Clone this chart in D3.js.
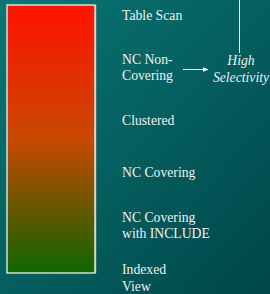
<html>
<head>
<script src="https://d3js.org/d3.v7.min.js"></script>
</head>
<body style="margin:0">
<svg id="chart" width="270" height="294" style="display:block"></svg>
<script>
// index types, ordered from lowest to highest selectivity benefit
var categories = [
  ["Table Scan"],
  ["NC Non-", "Covering"],
  ["Clustered"],
  ["NC Covering"],
  ["NC Covering", "with INCLUDE"],
  ["Indexed", "View"]
];
var barColors = ["#ff1200", "#c84800", "#0e6600"];
var noteLines = ["High", "Selectivity"];

var FONT = "Liberation Serif";
var svg = d3.select("#chart");
var W = 270, H = 294;
var defs = svg.append("defs");

var bg = defs.append("linearGradient").attr("id", "bg")
  .attr("x1", 0).attr("y1", 0).attr("x2", 1).attr("y2", 1);
bg.append("stop").attr("offset", 0).attr("stop-color", "#0a7674");
bg.append("stop").attr("offset", 1).attr("stop-color", "#00464a");

var bar = defs.append("linearGradient").attr("id", "bar")
  .attr("x1", 0).attr("y1", 0).attr("x2", 0).attr("y2", 1);
bar.selectAll("stop").data(barColors).enter().append("stop")
  .attr("offset", (d, i) => i / (barColors.length - 1))
  .attr("stop-color", d => d);

defs.append("marker").attr("id", "head")
  .attr("viewBox", "0 0 10 10").attr("refX", 9).attr("refY", 5)
  .attr("markerWidth", 6).attr("markerHeight", 6).attr("orient", "auto")
  .append("path").attr("d", "M0,1L10,5L0,9Z").attr("fill", "#fff");

svg.append("rect").attr("width", W).attr("height", H).attr("fill", "url(#bg)");

// bar
var x0 = 7, x1 = 95, y0 = 5, y1 = 273;
svg.append("rect")
  .attr("x", x0).attr("y", y0).attr("width", x1 - x0).attr("height", y1 - y0)
  .attr("fill", "url(#bar)")
  .attr("stroke", "#fff").attr("stroke-width", 1.2);
svg.append("line")
  .attr("x1", x1 + 0.5).attr("x2", x1 + 0.5).attr("y1", y0).attr("y2", y1)
  .attr("stroke", "#f2d8b8").attr("stroke-opacity", 0.8).attr("stroke-width", 1.5);

// labels
var y = d3.scalePoint().domain(d3.range(categories.length)).range([15, 278]);
var lineH = 16.5;
var lab = svg.selectAll("text.lab").data(categories).enter().append("text")
  .attr("class", "lab")
  .attr("font-family", FONT)
  .attr("font-size", 13.7)
  .attr("fill", "#f0f0f0");
lab.selectAll("tspan").data((d, i) => d.map(t => ({t: t, i: i, n: d.length})))
  .enter().append("tspan")
  .attr("x", 122)
  .attr("y", (d, j) => y(d.i) + 4.5 - (d.n - 1) * lineH / 2 + j * lineH)
  .attr("font-family", FONT)
  .text(d => d.t);

// arrow and note
svg.append("line")
  .attr("x1", 183).attr("x2", 208).attr("y1", 69.5).attr("y2", 69.5)
  .attr("stroke", "#fff").attr("stroke-width", 1)
  .attr("marker-end", "url(#head)");
svg.append("line")
  .attr("x1", 239.5).attr("x2", 239.5).attr("y1", 0).attr("y2", 53)
  .attr("stroke", "#fff").attr("stroke-width", 1);
svg.selectAll("text.note").data(noteLines).enter().append("text")
  .attr("class", "note")
  .attr("x", 241)
  .attr("y", (d, i) => 65 + i * 17)
  .attr("text-anchor", "middle")
  .attr("font-family", FONT)
  .attr("font-size", 13.7)
  .attr("font-style", "italic")
  .attr("fill", "#f0f0f0")
  .text(d => d);
</script>
</body>
</html>
